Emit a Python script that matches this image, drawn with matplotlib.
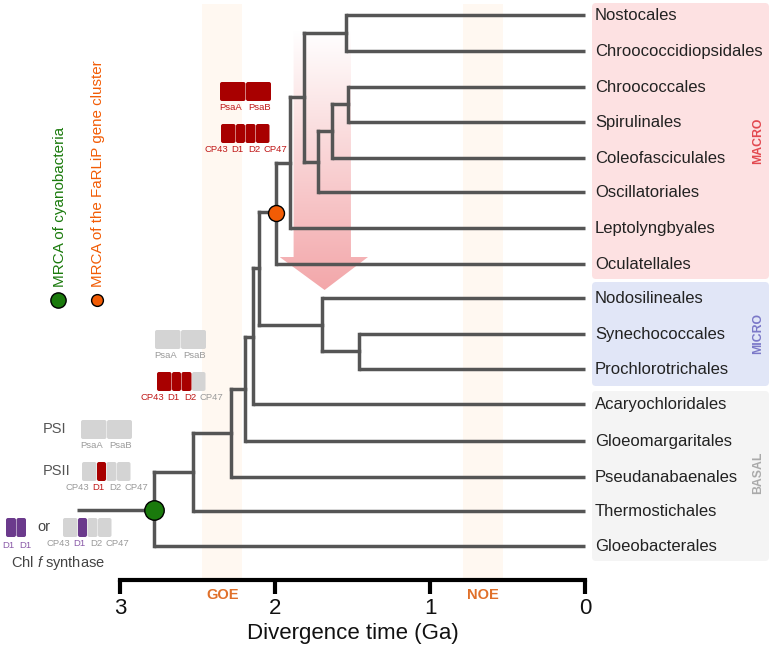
"""
Cyanobacteria divergence time tree
"""

import numpy as np
import matplotlib

matplotlib.use("Agg")
import matplotlib.pyplot as plt
from matplotlib.colors import LinearSegmentedColormap
from matplotlib.patches import FancyBboxPatch, Polygon

plt.rcParams["font.family"] = ["Liberation Sans", "DejaVu Sans"]
plt.rcParams["mathtext.fontset"] = "custom"
plt.rcParams["mathtext.rm"] = "Liberation Sans"
plt.rcParams["mathtext.it"] = "Liberation Sans:italic"

W, H = 772, 646

leaf_names = [
    "Nostocales", "Chroococcidiopsidales", "Chroococcales", "Spirulinales",
    "Coleofasciculales", "Oscillatoriales", "Leptolyngbyales", "Oculatellales",
    "Nodosilineales", "Synechococcales", "Prochlorotrichales", "Acaryochloridales",
    "Gloeomargaritales", "Pseudanabaenales", "Thermostichales", "Gloeobacterales",
]
leaf_y = [15, 51, 87, 122, 158, 192, 228, 264, 298, 334, 369, 404, 441, 477, 511, 546]
leaf_parent = [1.54, 1.54, 1.53, 1.53, 1.63, 1.72, 1.905, 1.995,
               1.70, 1.46, 1.46, 2.14, 2.195, 2.285, 2.53, 2.78]

# 内部节点: 年龄, 父节点年龄, 竖线上端, 竖线下端, 与父节点相连的高度
node_age = [2.53, 2.285, 2.195, 2.14, 2.105, 1.995, 1.905, 1.81, 1.54, 1.72, 1.63, 1.53, 1.70, 1.46]
node_parent = [2.78, 2.53, 2.285, 2.195, 2.14, 2.105, 1.995, 1.905, 1.81, 1.81, 1.72, 1.63, 2.105, 1.70]
node_top = [433, 389, 337, 268, 212, 163, 97, 33, 15, 131, 104, 87, 298, 334]
node_bottom = [511, 477, 441, 404, 325, 264, 228, 162, 51, 192, 158, 122, 351, 369]
node_link = [472, 433, 389, 337, 268, 212, 163, 97, 33, 162, 131, 104, 325, 351]

root_age = 2.78
root_top, root_bottom, root_y = 472, 546, 510
stem_age = 3.28
farlip_age, farlip_y = 1.995, 213

goe_band = [2.21, 2.47]
noe_band = [0.53, 0.79]
band_top = 4
time_ticks = [3, 2, 1, 0]
time_labels = ["3", "2", "1", "0"]

arrow_x = [1.88, 1.88, 1.97, 1.68, 1.40, 1.51, 1.51]
arrow_y = [30, 257, 257, 290, 257, 257, 30]

TREE = "#555555"
DARKRED = "#a80000"
GREY = "#d4d4d4"
PURPLE = "#6b3a8c"

fig = plt.figure(figsize=(W / 100, H / 100), dpi=100)

# 主轴: x为年龄, y为像素行
ax = fig.add_axes([120 / W, 1 - 580 / H, 465 / W, 580 / H])
ax.patch.set_visible(False)

for band in [goe_band, noe_band]:
    ax.axvspan(band[0], band[1], ymin=0, ymax=1 - band_top / 576, color="#fff8f1", lw=0, zorder=0)

# 渐变箭头
cmap = LinearSegmentedColormap.from_list("fade", ["#ffffff", "#f3a7aa"])
im = ax.imshow(
    np.linspace(0, 1, 256).reshape(-1, 1),
    cmap=cmap,
    extent=(1.97, 1.40, 290, 30),
    aspect="auto",
    zorder=1,
)
poly = Polygon(
    np.column_stack([arrow_x, arrow_y]),
    closed=True,
    transform=ax.transData,
    fc="none",
    ec="none",
)
ax.add_patch(poly)
im.set_clip_path(poly)

# 树
line_kw = dict(color=TREE, lw=2.5, solid_capstyle="projecting", clip_on=False, zorder=3)
for age, parent, top, bottom, link in zip(node_age, node_parent, node_top, node_bottom, node_link):
    ax.plot([age, age], [top, bottom], **line_kw)
    ax.plot([parent, age], [link, link], **line_kw)
for parent, y in zip(leaf_parent, leaf_y):
    ax.plot([parent, 0], [y, y], color=TREE, lw=2.5, solid_capstyle="butt", clip_on=False, zorder=3)
ax.plot([root_age, root_age], [root_top, root_bottom], **line_kw)
ax.plot([stem_age, root_age], [root_y, root_y], color=TREE, lw=2.5, solid_capstyle="butt", clip_on=False, zorder=3)

ax.plot(root_age, root_y, "o", ms=14, mfc="#1a7a0c", mec="black", mew=1, clip_on=False, zorder=5)
ax.plot(farlip_age, farlip_y, "o", ms=11.5, mfc="#f25c05", mec="black", mew=1, clip_on=False, zorder=5)

ax.set_xlim(3, 0)
ax.set_ylim(580, 0)
ax.set_yticks([])
ax.set_xticks(time_ticks)
ax.set_xticklabels(time_labels, fontsize=16, color="#111111")
ax.tick_params(axis="x", length=10, width=3, pad=3, color="black")
for s in ["top", "left", "right"]:
    ax.spines[s].set_visible(False)
ax.spines["bottom"].set_linewidth(3)
ax.spines["bottom"].set_capstyle("projecting")
ax.set_xlabel("Divergence time (Ga)", fontsize=16, labelpad=2.5, color="#111111")
ax.text(sum(goe_band) / 2, 595, "GOE", color="#e0702a", fontsize=10.5, fontweight="bold", ha="center", va="center", clip_on=False)
ax.text(sum(noe_band) / 2, 595, "NOE", color="#e0702a", fontsize=10.5, fontweight="bold", ha="center", va="center", clip_on=False)

# 覆盖层: 像素坐标
ov = fig.add_axes([0, 0, 1, 1], zorder=5)
ov.patch.set_visible(False)
ov.set_xlim(0, W)
ov.set_ylim(H, 0)
ov.axis("off")


def box(x0, y0, x1, y1, color, pad=3):
    ov.add_patch(
        FancyBboxPatch(
            (x0 + pad, y0 + pad),
            x1 - x0 - 2 * pad,
            y1 - y0 - 2 * pad,
            boxstyle="round,pad=%s,rounding_size=%s" % (pad, pad),
            fc=color,
            ec="none",
        )
    )


def small(x, y, s, color):
    ov.text(x, y, s, fontsize=6.8, color=color, ha="center", va="center")


def psi_block(x0, y0, color, text_color):
    box(x0, y0, x0 + 25.5, y0 + 19, color, pad=2)
    box(x0 + 26, y0, x0 + 51, y0 + 19, color, pad=2)
    small(x0 + 11, y0 + 25, "PsaA", text_color)
    small(x0 + 40, y0 + 25, "PsaB", text_color)


def psii_block(x0, y0, colors, text_colors):
    edges = [0, 15, 24.5, 35, 49]
    centers = [-5, 16, 33.5, 54]
    names = ["CP43", "D1", "D2", "CP47"]
    order = [0, 2, 3, 1]  # D1 画在最上面
    for i in order:
        box(x0 + edges[i], y0, x0 + edges[i + 1] - 0.5, y0 + 19, colors[i], pad=2)
    for c, n, tc in zip(centers, names, text_colors):
        small(x0 + c, y0 + 25, n, tc)


GT = "#9a9a9a"
RT = "#c01818"
PT = "#8a5aa8"

# 最上面一组
psi_block(220, 82, DARKRED, RT)
psii_block(221, 124, [DARKRED] * 4, [RT] * 4)
# 中间一组
psi_block(155, 330, GREY, GT)
psii_block(157, 372, [DARKRED, DARKRED, DARKRED, GREY], [RT, RT, RT, GT])
# 祖先
psi_block(81, 420, GREY, GT)
psii_block(82, 462, [GREY, DARKRED, GREY, GREY], [GT, RT, GT, GT])
psii_block(63, 518, [GREY, PURPLE, GREY, GREY], [GT, PT, GT, GT])
box(6, 518, 16, 537, PURPLE, pad=2)
box(16.5, 518, 26, 537, PURPLE, pad=2)
small(8, 545, "D1", PT)
small(25, 545, "D1", PT)

ov.text(55, 429, "PSI", fontsize=10.5, color="#555555", ha="center", va="center")
ov.text(57, 471, "PSII", fontsize=10.5, color="#555555", ha="center", va="center")
ov.text(44, 527, "or", fontsize=10.5, color="#444444", ha="center", va="center")
ov.text(58, 563, "Chl $\\mathit{f}$ synthase", fontsize=10.5, color="#444444", ha="center", va="center")

# 图例
ov.plot(58, 300, "o", ms=11, mfc="#1a7a0c", mec="black", mew=1)
ov.plot(97, 300, "o", ms=8.5, mfc="#f25c05", mec="black", mew=1)
ov.text(60, 287, "MRCA of cyanobacteria", rotation=90, fontsize=11, color="#1a7a0c", ha="center", va="bottom")
ov.text(98, 287, "MRCA of the FaRLiP gene cluster", rotation=90, fontsize=10.9, color="#f25c05", ha="center", va="bottom")

# 分组背景
box(592, 3, 769, 279, "#fde1e2", pad=4)
box(592, 282, 769, 386, "#e1e6f7", pad=4)
box(592, 391, 769, 561, "#f4f4f4", pad=4)
ov.text(758, 141, "MACRO", rotation=90, fontsize=8.8, fontweight="bold", color="#e2484f", ha="center", va="center")
ov.text(758, 334, "MICRO", rotation=90, fontsize=8.8, fontweight="bold", color="#7b78c8", ha="center", va="center")
ov.text(758, 473, "BASAL", rotation=90, fontsize=8.8, fontweight="bold", color="#aaaaaa", ha="center", va="center")

for name, y in zip(leaf_names, leaf_y):
    ov.text(595, y + 5, name, fontsize=12, color="#222222", ha="left", va="baseline")

fig.savefig("out.png", dpi=100)
